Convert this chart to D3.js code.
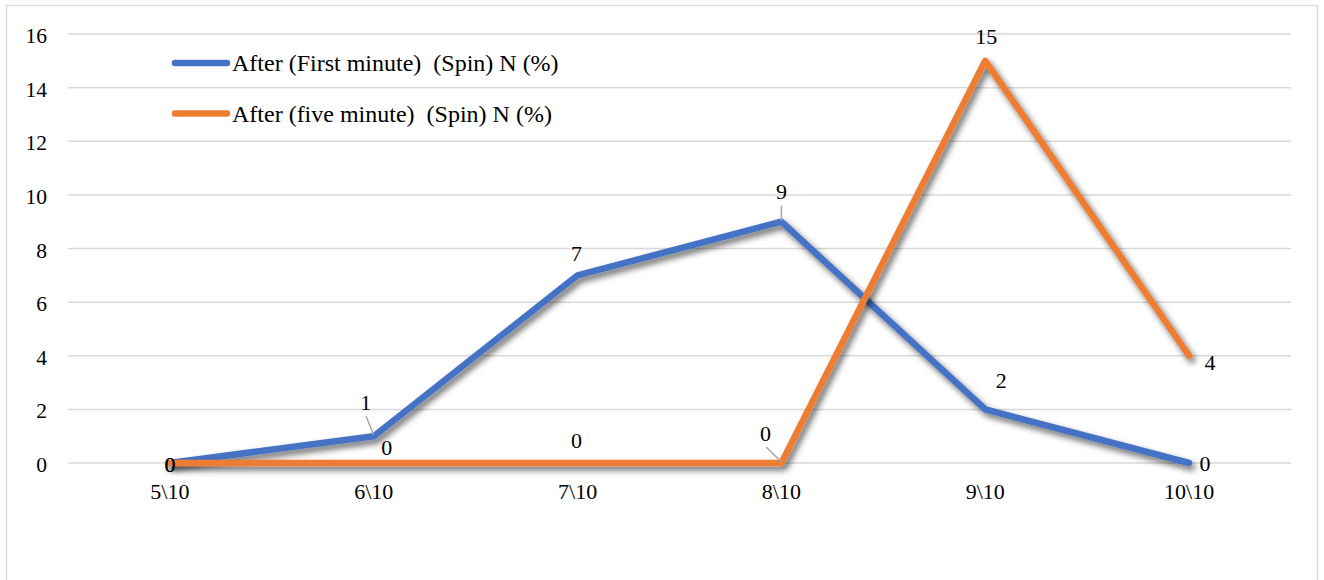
<!DOCTYPE html>
<html><head><meta charset="utf-8">
<script src="https://cdn.jsdelivr.net/npm/d3@7"></script>
<style>body{margin:0;background:#fff}svg{display:block}text{font-family:"Liberation Serif","Times New Roman",serif;fill:#000}</style>
</head><body><svg id="c" width="1324" height="580"></svg>
<script>
const categories = ["5\\10","6\\10","7\\10","8\\10","9\\10","10\\10"];
const firstMinute = [0,1,7,9,2,0];
const fiveMinute = [0,0,0,0,15,4];
const seriesNames = ["After (First minute)  (Spin) N (%)","After (five minute)  (Spin) N (%)"];
const yTicks = [0,2,4,6,8,10,12,14,16];
// label offsets (dx, dy) relative to the point, plus leader line flag
const labelPos1 = [[0,1,false],[-8,-34,true],[-1,-22,false],[0,-30,true],[16,-29,false],[16,0,false]];
const labelPos2 = [[0,1,false],[13,-16,false],[-1,-23,false],[-16,-30,true],[1,-25,false],[21,7,false]];

const svg = d3.select("#c");
svg.append("rect").attr("x",6.5).attr("y",5.5).attr("width",1311).attr("height",590)
  .attr("fill","#fff").attr("stroke","#d9d9d9").attr("stroke-width",1.3);

const defs = svg.append("defs");
const f = defs.append("filter").attr("id","sh").attr("x","-10%").attr("y","-10%").attr("width","120%").attr("height","130%");
f.append("feDropShadow").attr("dx",3).attr("dy",4).attr("stdDeviation",3.2).attr("flood-color","#000").attr("flood-opacity",0.6);

const x = d3.scaleBand().domain(categories).range([68,1291]);
const y = d3.scaleLinear().domain([0,16]).range([463,34]);

svg.append("g").selectAll("line").data(yTicks).join("line")
  .attr("x1",68).attr("x2",1291).attr("y1",d=>y(d)).attr("y2",d=>y(d))
  .attr("stroke","#d9d9d9").attr("stroke-width",1.5);

const yAxis = d3.axisLeft(y).tickValues(yTicks).tickSize(0).tickPadding(0);
const ga = svg.append("g").attr("transform","translate(47,0)").call(yAxis);
ga.select(".domain").remove();
ga.selectAll("text").style("font-size","21.5px").style("font-family","Liberation Serif").attr("fill","#000").attr("dy","0.4em");

const xAxis = d3.axisBottom(x).tickSize(0).tickPadding(0);
const gx = svg.append("g").attr("transform","translate(0,499)").call(xAxis);
gx.select(".domain").remove();
gx.selectAll("text").style("font-size","22px").style("font-family","Liberation Serif").attr("fill","#000").attr("y",0).attr("dy","0");

const cx = d=>x(d)+x.bandwidth()/2;
const line = d3.line().x((d,i)=>cx(categories[i])).y(d=>y(d));
const colors=["#4472C4","#ED7D31"];
const series=[firstMinute,fiveMinute];
series.forEach((s,k)=>{
  svg.append("path").datum(s).attr("d",line).attr("fill","none").attr("stroke",colors[k])
    .attr("stroke-width",6.5).attr("stroke-linejoin","round").attr("stroke-linecap","round").attr("filter","url(#sh)");
});

[[firstMinute,labelPos1],[fiveMinute,labelPos2]].forEach(([s,lp])=>{
  s.forEach((v,i)=>{
    const px=cx(categories[i]), py=y(v);
    const [dx,dy,lead]=lp[i];
    if(lead){
      svg.append("line").attr("x1",px+dx*0.95).attr("y1",py+dy+14).attr("x2",px).attr("y2",py-1)
        .attr("stroke","#a6a6a6").attr("stroke-width",1.5);
    }
    svg.append("text").attr("x",px+dx).attr("y",py+dy).attr("text-anchor","middle").attr("dy","0.35em")
      .style("font-size","22px").text(v);
  });
});

const lg = svg.append("g");
seriesNames.forEach((n,k)=>{
  const ly = 63+k*50.5;
  lg.append("line").attr("x1",175).attr("x2",227).attr("y1",ly).attr("y2",ly).attr("stroke",colors[k]).attr("stroke-width",6.5).attr("stroke-linecap","round");
  lg.append("text").attr("x",232).attr("y",ly).attr("dy","0.35em").style("font-size","24px").style("white-space","pre").text(n);
});
</script></body></html>
